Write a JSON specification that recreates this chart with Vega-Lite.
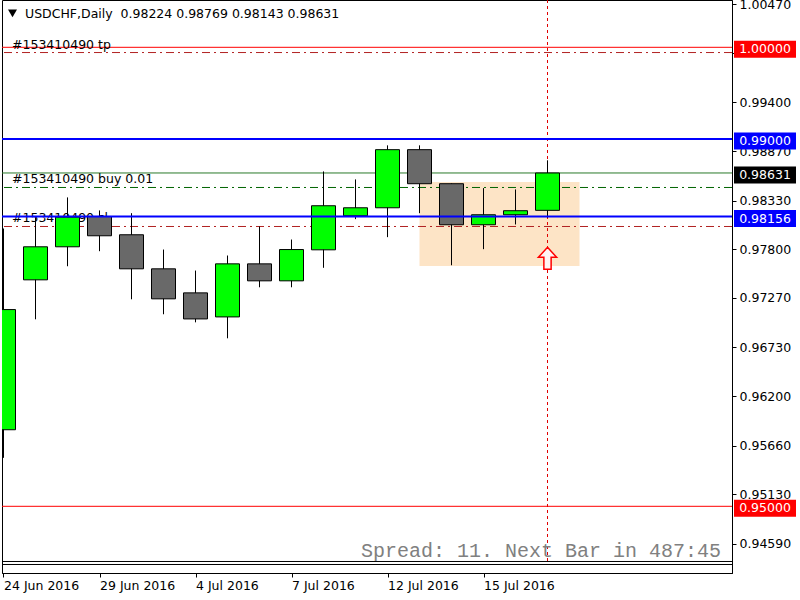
{
  "$schema": "https://vega.github.io/schema/vega-lite/v6.json",
  "width": 730,
  "height": 573,
  "autosize": {"type": "none"},
  "padding": {"left": 2, "top": 0, "right": 68, "bottom": 27},
  "background": "white",
  "config": {"view": {"stroke": "black", "strokeWidth": 1}, "font": "DejaVu Sans", "scale": {"continuousPadding": 0}},
  "datasets": {
    "candles": [
      {"i": 1, "o": 0.95834, "h": 0.98026, "l": 0.95528, "c": 0.97143},
      {"i": 2, "o": 0.97467, "h": 0.98146, "l": 0.97037, "c": 0.97827},
      {"i": 3, "o": 0.97827, "h": 0.98365, "l": 0.97615, "c": 0.98150},
      {"i": 4, "o": 0.98157, "h": 0.98223, "l": 0.97779, "c": 0.97947},
      {"i": 5, "o": 0.97958, "h": 0.98193, "l": 0.97255, "c": 0.97587},
      {"i": 6, "o": 0.97587, "h": 0.97797, "l": 0.97092, "c": 0.97260},
      {"i": 7, "o": 0.97325, "h": 0.97568, "l": 0.97004, "c": 0.97041},
      {"i": 8, "o": 0.97063, "h": 0.97732, "l": 0.96830, "c": 0.97641},
      {"i": 9, "o": 0.97641, "h": 0.98048, "l": 0.97386, "c": 0.97456},
      {"i": 10, "o": 0.97456, "h": 0.97906, "l": 0.97386, "c": 0.97797},
      {"i": 11, "o": 0.97794, "h": 0.98648, "l": 0.97598, "c": 0.98274},
      {"i": 12, "o": 0.98165, "h": 0.98561, "l": 0.98128, "c": 0.98252},
      {"i": 13, "o": 0.98252, "h": 0.98932, "l": 0.97932, "c": 0.98885},
      {"i": 14, "o": 0.98885, "h": 0.98932, "l": 0.98193, "c": 0.98514},
      {"i": 15, "o": 0.98514, "h": 0.98517, "l": 0.97626, "c": 0.98067},
      {"i": 16, "o": 0.98067, "h": 0.98466, "l": 0.97801, "c": 0.98176},
      {"i": 17, "o": 0.98176, "h": 0.98452, "l": 0.98070, "c": 0.98220},
      {"i": 18, "o": 0.98224, "h": 0.98769, "l": 0.98143, "c": 0.98631}
    ],
    "levels": [
      {"price": 1.0, "kind": "hred"},
      {"price": 0.95, "kind": "hred"},
      {"price": 0.99, "kind": "hblue"},
      {"price": 0.98156, "kind": "hblue"},
      {"price": 0.98631, "kind": "bid"}
    ],
    "orders": [
      {"price": 0.99943, "kind": "tp", "label": "#153410490 tp"},
      {"price": 0.98473, "kind": "buy", "label": "#153410490 buy 0.01"},
      {"price": 0.98048, "kind": "sl", "label": "#153410490 sl"}
    ],
    "zone": [{"i0": 14, "i1": 19, "p0": 0.976176, "p1": 0.985327}],
    "arrow": [{"i": 18, "price": 0.977015}],
    "vline": [{"i": 18}],
    "texts": [
      {"id": "header", "text": "USDCHF,Daily\u00a0 0.98224 0.98769 0.98143 0.98631"},
      {"id": "spread", "text": "Spread: 11. Next Bar in 487:45"}
    ]
  },
  "layer": [
    {
      "data": {"name": "zone"},
      "mark": {"type": "rect", "color": "#FDE4C6", "opacity": 1},
      "encoding": {
        "x": {"field": "i0", "type": "quantitative", "title": null, "scale": {"domain": [0.953125, 23.765625], "nice": false, "zero": false, "padding": 0},
          "axis": {"orient": "bottom", "values": [1, 4, 7, 10, 13, 16], "labelExpr": "['24 Jun 2016','29 Jun 2016','4 Jul 2016','7 Jul 2016','12 Jul 2016','15 Jul 2016'][(datum.value-1)/3]",
            "labelAlign": "left", "labelBaseline": "top", "labelPadding": 2, "tickSize": 4, "domainColor": "black", "tickColor": "black",
            "labelColor": "black", "labelFont": "DejaVu Sans", "labelFontSize": 12.5, "grid": false, "title": null, "labelFlush": false, "labelOverlap": false}},
        "x2": {"field": "i1"},
        "y": {"field": "p0", "type": "quantitative", "title": null, "scale": {"domain": [0.942734, 1.005153], "nice": false, "zero": false, "padding": 0},
          "axis": {"orient": "right", "values": [1.0047, 0.9994, 0.994, 0.9887, 0.9833, 0.978, 0.9727, 0.9673, 0.962, 0.9566, 0.9513, 0.9459],
            "format": ".5f", "tickSize": 4, "labelPadding": 3, "labelFont": "DejaVu Sans", "labelFontSize": 12.5, "labelColor": "black",
            "domainColor": "black", "tickColor": "black", "grid": false, "title": null, "labelOverlap": false, "labelFlush": false}},
        "y2": {"field": "p1"}
      }
    },
    {
      "data": {"name": "levels"},
      "transform": [{"filter": "datum.kind === 'hred'"}],
      "mark": {"type": "rule", "color": "#FF0000", "strokeWidth": 1},
      "encoding": {"y": {"field": "price", "type": "quantitative", "title": null}}
    },
    {
      "data": {"name": "levels"},
      "transform": [{"filter": "datum.kind === 'bid'"}],
      "mark": {"type": "rule", "color": "#2A7A2A", "strokeWidth": 1},
      "encoding": {"y": {"field": "price", "type": "quantitative", "title": null}}
    },
    {
      "data": {"name": "orders"},
      "transform": [{"filter": "datum.kind !== 'buy'"}],
      "mark": {"type": "rule", "color": "#B22222", "strokeWidth": 1, "strokeDash": [8, 4, 2, 4]},
      "encoding": {"y": {"field": "price", "type": "quantitative", "title": null}}
    },
    {
      "data": {"name": "orders"},
      "transform": [{"filter": "datum.kind === 'buy'"}],
      "mark": {"type": "rule", "color": "#006400", "strokeWidth": 1, "strokeDash": [8, 4, 2, 4]},
      "encoding": {"y": {"field": "price", "type": "quantitative", "title": null}}
    },
    {
      "data": {"name": "orders"},
      "mark": {"type": "text", "align": "left", "baseline": "alphabetic", "dy": -4, "fontSize": 12.5, "font": "DejaVu Sans", "color": "black"},
      "encoding": {
        "x": {"datum": 1.265625, "type": "quantitative", "title": null},
        "y": {"field": "price", "type": "quantitative", "title": null},
        "text": {"field": "label"}
      }
    },
    {
      "data": {"name": "vline"},
      "mark": {"type": "rule", "color": "#E00000", "strokeWidth": 1, "strokeDash": [3, 3]},
      "encoding": {
        "x": {"field": "i", "type": "quantitative", "title": null},
        "y": {"datum": 1.005153, "type": "quantitative", "title": null},
        "y2": {"datum": 0.943987}
      }
    },
    {
      "data": {"name": "candles"},
      "mark": {"type": "rule", "color": "black", "strokeWidth": 1, "clip": true},
      "encoding": {
        "x": {"field": "i", "type": "quantitative", "title": null},
        "y": {"field": "l", "type": "quantitative", "title": null},
        "y2": {"field": "h"}
      }
    },
    {
      "data": {"name": "candles"},
      "mark": {"type": "bar", "orient": "vertical", "size": 24, "stroke": "black", "strokeWidth": 1, "clip": true, "opacity": 1},
      "encoding": {
        "x": {"field": "i", "type": "quantitative", "title": null},
        "y": {"field": "o", "type": "quantitative", "title": null},
        "y2": {"field": "c"},
        "fill": {"condition": {"test": "datum.c >= datum.o", "value": "#00FF00"}, "value": "#696969"}
      }
    },
    {
      "data": {"name": "levels"},
      "transform": [{"filter": "datum.kind === 'hblue'"}],
      "mark": {"type": "rule", "color": "#0000FF", "strokeWidth": 2},
      "encoding": {"y": {"field": "price", "type": "quantitative", "title": null}}
    },
    {
      "data": {"name": "arrow"},
      "mark": {"type": "point", "shape": "M0,-1L0.83,-0.09L0.33,-0.09L0.33,1L-0.33,1L-0.33,-0.09L-0.83,-0.09Z", "size": 484, "filled": true, "fill": "#FFF4F4", "stroke": "#FF0000", "strokeWidth": 1.5, "opacity": 1},
      "encoding": {
        "x": {"field": "i", "type": "quantitative", "title": null},
        "y": {"field": "price", "type": "quantitative", "title": null}
      }
    },
    {
      "data": {"name": "texts"},
      "transform": [{"filter": "datum.id === 'header'"}],
      "mark": {"type": "point", "shape": "triangle-down", "size": 81, "filled": true, "color": "black", "opacity": 1},
      "encoding": {
        "x": {"datum": 1.28125, "type": "quantitative", "title": null},
        "y": {"datum": 1.003704, "type": "quantitative", "title": null}
      }
    },
    {
      "data": {"name": "texts"},
      "transform": [{"filter": "datum.id === 'header'"}],
      "mark": {"type": "text", "align": "left", "baseline": "middle", "fontSize": 12.5, "font": "DejaVu Sans", "color": "black"},
      "encoding": {
        "x": {"datum": 1.671875, "type": "quantitative", "title": null},
        "y": {"datum": 1.003606, "type": "quantitative", "title": null},
        "text": {"field": "text"}
      }
    },
    {
      "data": {"name": "texts"},
      "transform": [{"filter": "datum.id === 'spread'"}],
      "mark": {"type": "text", "align": "right", "baseline": "middle", "fontSize": 20, "font": "Liberation Mono", "color": "#808080"},
      "encoding": {
        "x": {"datum": 23.421875, "type": "quantitative", "title": null},
        "y": {"datum": 0.945131, "type": "quantitative", "title": null},
        "text": {"field": "text"}
      }
    },
    {
      "data": {"values": [{}]},
      "mark": {"type": "rule", "color": "black", "strokeWidth": 1},
      "encoding": {"y": {"datum": 0.943987, "type": "quantitative", "title": null}}
    },
    {
      "data": {"values": [{}]},
      "mark": {"type": "rule", "color": "black", "strokeWidth": 1},
      "encoding": {"y": {"datum": 0.94366, "type": "quantitative", "title": null}}
    },
    {
      "data": {"name": "levels"},
      "mark": {"type": "tick", "orient": "horizontal", "size": 62, "thickness": 17, "opacity": 1, "yOffset": 2, "clip": false},
      "encoding": {
        "x": {"datum": 24.796875, "type": "quantitative", "title": null},
        "y": {"field": "price", "type": "quantitative", "title": null},
        "color": {"field": "kind", "type": "nominal", "scale": {"domain": ["hred", "hblue", "bid"], "range": ["#FF0000", "#0000FF", "#000000"]}, "legend": null}
      }
    },
    {
      "data": {"name": "levels"},
      "mark": {"type": "text", "align": "center", "baseline": "middle", "fontSize": 12.5, "font": "DejaVu Sans", "color": "white", "yOffset": 2},
      "encoding": {
        "x": {"datum": 24.796875, "type": "quantitative", "title": null},
        "y": {"field": "price", "type": "quantitative", "title": null},
        "text": {"field": "price", "format": ".5f"}
      }
    }
  ]
}
